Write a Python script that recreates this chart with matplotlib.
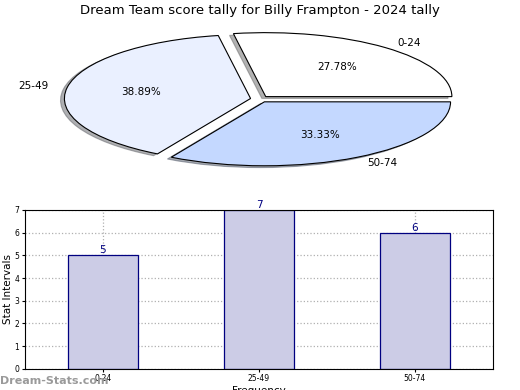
import matplotlib.pyplot as plt

# score tally for the three intervals
intervals = ["0-24", "25-49", "50-74"]
counts = [5, 7, 6]
pie_colors = ["#ffffff", "#eaf0ff", "#c4d8ff"]

fig = plt.figure(figsize=(5.2, 3.9), dpi=100)

# pie on top, squashed into an ellipse
ax1 = fig.add_axes([0.052, 0.541, 0.895, 0.41])
ax1.pie(counts, labels=intervals, colors=pie_colors, autopct="%.2f%%",
        startangle=0, explode=[0.05] * 3,
        shadow={"ox": -0.015, "oy": -0.02, "shade": 0.6},
        wedgeprops={"edgecolor": "black", "linewidth": 0.8},
        textprops={"fontsize": 7.5})
ax1.set_aspect("auto")
ax1.set_xlim(-1.25, 1.25)
ax1.set_ylim(-1.25, 1.25)
fig.text(0.5, 0.973, "Dream Team score tally for Billy Frampton - 2024 tally",
         ha="center", va="center", fontsize=9.5)

# bar chart below
ax2 = fig.add_axes([0.048, 0.054, 0.9, 0.408])
x = range(len(intervals))
ax2.bar(x, counts, width=0.45, color="#ccccE6", edgecolor="#000080",
        linewidth=0.9, zorder=2)
for xi, c in zip(x, counts):
    ax2.text(xi, c, str(c), ha="center", va="bottom", color="#000080", fontsize=7.5)
ax2.set_xlim(-0.5, 2.5)
ax2.set_ylim(0, 7)
ax2.set_xticks(list(x))
ax2.set_xticklabels(intervals)
ax2.tick_params(labelsize=5.5, length=2, pad=2)
ax2.grid(True, linestyle=":", color="#b0b0b0", linewidth=0.9, zorder=0)
ax2.set_axisbelow(True)
ax2.set_ylabel("Stat Intervals", fontsize=7.5, labelpad=1)
ax2.set_xlabel("Frequency", fontsize=7.5, labelpad=2)

fig.text(0.0, 0.022, "Dream-Stats.com", fontsize=8, color="#9a9a9a",
         weight="bold", ha="left", va="center", zorder=0)

fig.savefig("out.png", dpi=100)
